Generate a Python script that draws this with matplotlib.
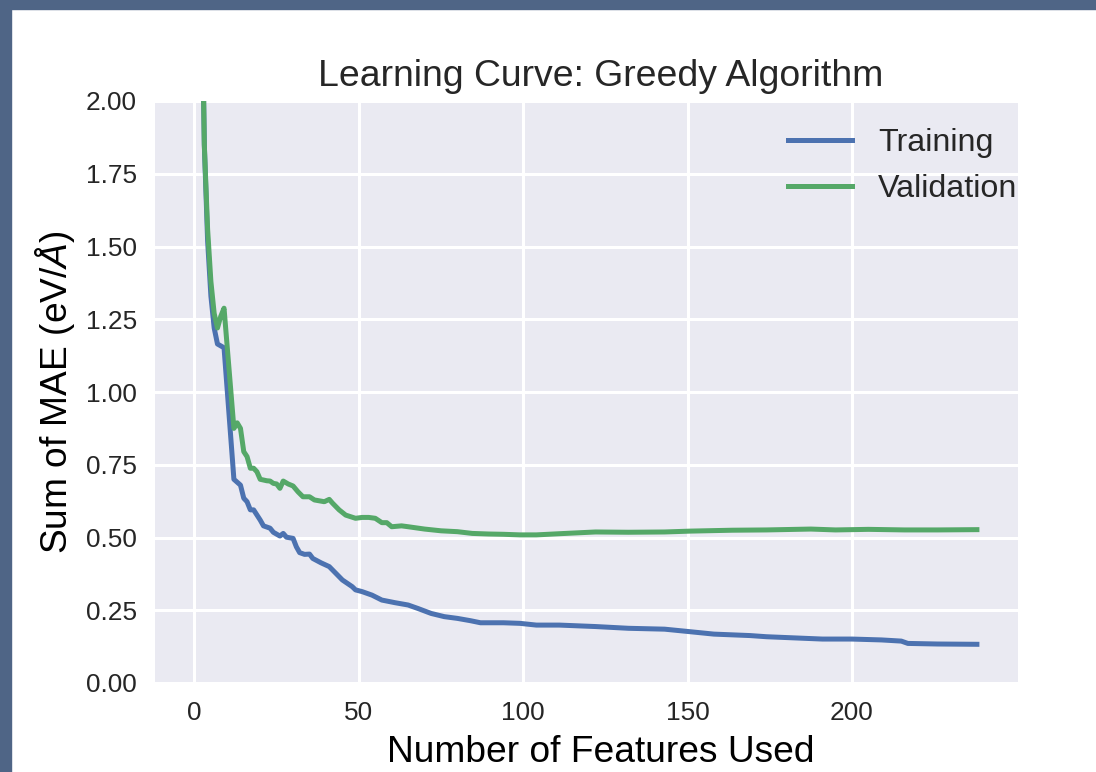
"""Learning curve of the greedy feature selection (training vs validation MAE)."""

import matplotlib

matplotlib.use("Agg")

import matplotlib.pyplot as plt
from matplotlib.patches import Rectangle

# values
train_x = [2, 3, 4, 5, 6, 7, 9, 12, 13, 14, 15, 16, 17, 18, 20, 21, 23, 24, 26, 27,
           28, 30, 31, 32, 33.5, 35, 36, 38.5, 41, 43, 45, 48, 49, 51, 54, 57, 61, 65,
           68, 72, 76, 80, 84, 87, 94, 99, 104, 111, 122, 132, 143, 151, 158, 169,
           174, 191, 200, 209, 215, 217, 226, 238]
train_mae = [2.6, 1.85, 1.52, 1.33, 1.22, 1.165, 1.152, 0.70, 0.69, 0.68, 0.635, 0.623,
             0.595, 0.595, 0.56, 0.54, 0.532, 0.518, 0.505, 0.514, 0.501, 0.497, 0.468,
             0.448, 0.442, 0.443, 0.428, 0.413, 0.40, 0.377, 0.354, 0.331, 0.320, 0.314,
             0.302, 0.285, 0.276, 0.268, 0.256, 0.239, 0.228, 0.222, 0.214, 0.207, 0.207,
             0.205, 0.199, 0.199, 0.194, 0.188, 0.185, 0.176, 0.168, 0.163, 0.159, 0.151,
             0.151, 0.148, 0.144, 0.136, 0.134, 0.133]

val_x = [2, 3, 4, 5, 6, 7, 8, 9, 12, 13, 14, 15, 16, 17, 18, 19, 20, 22, 23, 24, 25,
         26, 27, 28.5, 30, 31.5, 33, 35, 36.5, 39.5, 41, 42, 44, 46, 49, 51, 53, 55, 57,
         58.5, 60, 63, 65, 70, 75, 80, 84.5, 89.5, 94, 99, 104, 111, 122, 132, 143,
         151, 163.5, 174, 187.5, 195, 205, 216, 226, 238]
val_mae = [2.6, 1.85, 1.56, 1.38, 1.27, 1.22, 1.26, 1.288, 0.875, 0.894, 0.875, 0.795,
           0.778, 0.738, 0.738, 0.726, 0.700, 0.695, 0.694, 0.686, 0.684, 0.669, 0.694,
           0.684, 0.677, 0.657, 0.640, 0.640, 0.629, 0.623, 0.631, 0.618, 0.595, 0.577,
           0.566, 0.569, 0.569, 0.566, 0.551, 0.551, 0.537, 0.540, 0.537, 0.529, 0.523,
           0.520, 0.514, 0.512, 0.511, 0.509, 0.509, 0.513, 0.519, 0.518, 0.519, 0.522,
           0.525, 0.526, 0.529, 0.526, 0.528, 0.526, 0.526, 0.527]

x_ticks = [0, 50, 100, 150, 200]
y_ticks = [0.0, 0.25, 0.5, 0.75, 1.0, 1.25, 1.5, 1.75, 2.0]

plt.rcParams["font.family"] = ["Liberation Sans", "DejaVu Sans"]
plt.rcParams["mathtext.fontset"] = "custom"
plt.rcParams["mathtext.rm"] = "Liberation Sans"
plt.rcParams["mathtext.it"] = "Liberation Sans:italic"
plt.rcParams["text.color"] = "#262626"

fig = plt.figure(figsize=(10.96, 7.72), dpi=100)
# screenshot frame on top and left
fig.patches.append(Rectangle((0, 1 - 9 / 772), 1, 9 / 772, transform=fig.transFigure,
                             color="#4f6586", zorder=-1))
fig.patches.append(Rectangle((0, 0), 11 / 1096, 1, transform=fig.transFigure,
                             color="#4f6586", zorder=-1))

ax = fig.add_axes([155 / 1096, 89 / 772, 863 / 1096, 582 / 772])
ax.set_facecolor("#EAEAF2")
for s in ax.spines.values():
    s.set_visible(False)
ax.grid(color="white", linewidth=2.2)
ax.set_axisbelow(True)

ax.plot(train_x, train_mae, color="#4C72B0", linewidth=3.6, label="Training")
ax.plot(val_x, val_mae, color="#55A868", linewidth=3.6, label="Validation")

ax.set_xlim(-12, 250.5)
ax.set_ylim(0, 2)
ax.set_xticks(x_ticks)
ax.set_yticks(y_ticks)
ax.yaxis.set_major_formatter(matplotlib.ticker.FormatStrFormatter("%.2f"))
ax.tick_params(length=0, pad=13, labelsize=18.9, labelcolor="#262626")

ax.set_title("Learning Curve: Greedy Algorithm", fontsize=26.9, pad=11, x=0.517)
ax.set_xlabel("Number of Features Used", fontsize=26.7)
ax.xaxis.set_label_coords(0.517, -0.09)
ax.set_ylabel("Sum of MAE (eV/$Å$)", fontsize=26.7, labelpad=6)

ax.legend(loc="upper left", bbox_to_anchor=(788 / 1096, 1 - 128 / 772),
          bbox_transform=fig.transFigure, frameon=False, fontsize=23.2,
          borderpad=0, borderaxespad=0, handlelength=2.0, handletextpad=0.8,
          labelspacing=0.5)

fig.savefig("out.png", dpi=100)
